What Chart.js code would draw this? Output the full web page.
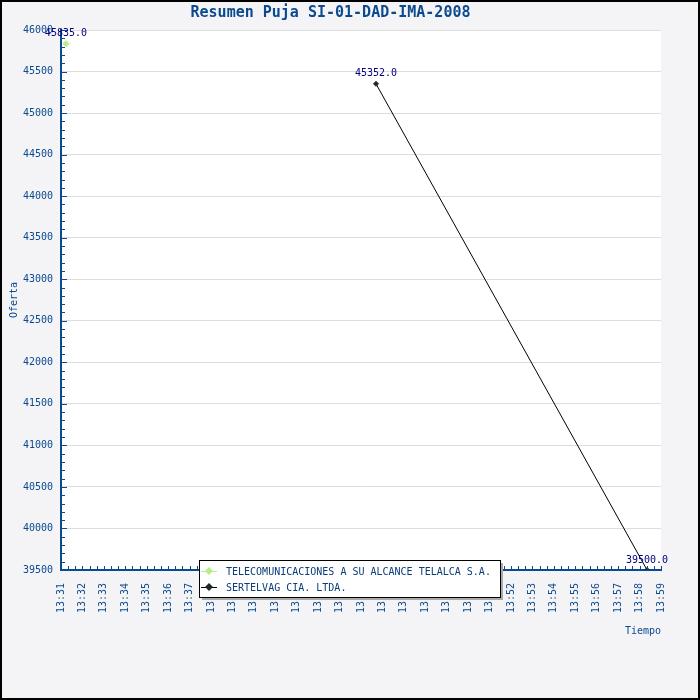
<!DOCTYPE html>
<html>
<head>
<meta charset="utf-8">
<script src="https://cdn.jsdelivr.net/npm/chart.js@4/dist/chart.umd.min.js"></script>
<style>
  body { margin: 0; background: #f4f4f6; }
  canvas { display: block; }
</style>
</head>
<body>
<canvas id="ChartPuja" width="700" height="700"></canvas>
<script>
// datos de la puja (minutos despues de las 13:00)
const seriesNames = ["TELECOMUNICACIONES A SU ALCANCE TELALCA S.A.", "SERTELVAG CIA. LTDA."];
const telalcaTimes = [31.23];
const telalcaOffers = [45835];
const sertelvagTimes = [45.7, 58.35];
const sertelvagOffers = [45352, 39500];
const xMinMinute = 31;
const xMaxMinute = 59;
const yMin = 39500;
const yMax = 46000;

const blue = "#0b4a8f";
const mono = "'DejaVu Sans Mono', monospace";

function toPoints(xs, ys) {
  return xs.map((x, i) => ({ x: x, y: ys[i] }));
}

// fondo, borde y area blanca
const backgroundPlugin = {
  id: "background",
  beforeDraw(chart) {
    const { ctx, chartArea } = chart;
    ctx.save();
    ctx.fillStyle = "#f4f4f6";
    ctx.fillRect(0, 0, chart.width, chart.height);
    ctx.fillStyle = "#ffffff";
    ctx.fillRect(chartArea.left, chartArea.top, chartArea.right - chartArea.left, chartArea.bottom - chartArea.top);
    ctx.restore();
  },
  afterDraw(chart) {
    const ctx = chart.ctx;
    ctx.save();
    ctx.strokeStyle = "#000";
    ctx.lineWidth = 2;
    ctx.strokeRect(1, 1, chart.width - 2, chart.height - 2);
    ctx.restore();
  }
};

// marcas de los ejes hacia adentro
const innerTicksPlugin = {
  id: "innerTicks",
  afterDatasetsDraw(chart) {
    const { ctx, scales } = chart;
    const x = scales.x, y = scales.y;
    ctx.save();
    ctx.strokeStyle = blue;
    ctx.lineWidth = 1;
    ctx.beginPath();
    for (let s = xMinMinute * 3; s <= xMaxMinute * 3; s++) {
      const px = Math.round(x.getPixelForValue(s / 3)) + 0.5;
      ctx.moveTo(px, y.bottom);
      ctx.lineTo(px, y.bottom - 4);
    }
    for (let v = yMin; v <= yMax; v += 100) {
      const py = Math.round(y.getPixelForValue(v)) + 0.5;
      const len = v % 500 === 0 ? 6 : 4;
      ctx.moveTo(x.left, py);
      ctx.lineTo(x.left + len, py);
    }
    ctx.stroke();
    ctx.restore();
  }
};

// etiquetas de valor sobre cada punto
const valueLabelsPlugin = {
  id: "valueLabels",
  afterDatasetsDraw(chart) {
    const ctx = chart.ctx;
    ctx.save();
    ctx.font = "10px " + mono;
    ctx.fillStyle = "#000080";
    ctx.textAlign = "center";
    ctx.textBaseline = "middle";
    chart.data.datasets.forEach((ds, i) => {
      chart.getDatasetMeta(i).data.forEach((el, j) => {
        ctx.fillText(ds.data[j].y.toFixed(1), el.x, el.y - 10);
      });
    });
    ctx.restore();
  }
};

// leyenda con sombra
const boxLegendPlugin = {
  id: "boxLegend",
  afterDraw(chart) {
    const ctx = chart.ctx;
    const bx = 199, by = 560, bw = 301, bh = 37;
    ctx.save();
    ctx.fillStyle = "#aaaaaa";
    ctx.fillRect(bx + 3, by + 3, bw, bh);
    ctx.fillStyle = "#ffffff";
    ctx.fillRect(bx, by, bw, bh);
    ctx.strokeStyle = "#000";
    ctx.lineWidth = 1;
    ctx.strokeRect(bx + 0.5, by + 0.5, bw, bh);
    ctx.font = "10px " + mono;
    ctx.textBaseline = "middle";
    chart.data.datasets.forEach((ds, i) => {
      const ry = by + 11 + i * 16;
      ctx.strokeStyle = ds.borderColor;
      ctx.beginPath();
      ctx.moveTo(bx + 2, ry + 0.5);
      ctx.lineTo(bx + 18, ry + 0.5);
      ctx.stroke();
      ctx.fillStyle = ds.pointBackgroundColor;
      ctx.beginPath();
      ctx.moveTo(bx + 10, ry - 4);
      ctx.lineTo(bx + 14, ry);
      ctx.lineTo(bx + 10, ry + 4);
      ctx.lineTo(bx + 6, ry);
      ctx.closePath();
      ctx.fill();
      ctx.fillStyle = "#0a3d7a";
      ctx.fillText(ds.label, bx + 27, ry + 1);
    });
    ctx.restore();
  }
};

const ctx = document.getElementById("ChartPuja").getContext("2d");
const myChart = new Chart(ctx, {
  type: "line",
  data: {
    datasets: [
      {
        label: seriesNames[0],
        data: toPoints(telalcaTimes, telalcaOffers),
        borderColor: "#b8ee88",
        backgroundColor: "#b8ee88",
        pointBackgroundColor: "#b8ee88",
        pointBorderColor: "#b8ee88",
        pointStyle: "rectRot",
        pointRadius: 3,
        borderWidth: 1,
      },
      {
        label: seriesNames[1],
        data: toPoints(sertelvagTimes, sertelvagOffers),
        borderColor: "#000000",
        backgroundColor: "#1c2a2a",
        pointBackgroundColor: "#1c2a2a",
        pointBorderColor: "#1c2a2a",
        pointStyle: "rectRot",
        pointRadius: 2.5,
        borderWidth: 1,
      },
    ],
  },
  options: {
    responsive: false,
    animation: false,
    devicePixelRatio: 1,
    layout: { padding: { top: 0, left: 0, right: 39, bottom: 0 } },
    plugins: {
      legend: { display: false },
      tooltip: { enabled: false },
      title: {
        display: true,
        text: "Resumen Puja SI-01-DAD-IMA-2008",
        color: blue,
        font: { family: mono, size: 15, weight: "bold", lineHeight: 1.2 },
        padding: { top: 4, bottom: 8 },
      },
    },
    scales: {
      x: {
        type: "linear",
        min: xMinMinute,
        max: xMaxMinute,
        afterFit(scale) { scale.height = 130; },
        grid: { display: false },
        border: { color: blue, width: 2 },
        ticks: {
          stepSize: 1,
          autoSkip: false,
          minRotation: 90,
          maxRotation: 90,
          padding: 5,
          color: blue,
          font: { family: mono, size: 10 },
          callback: (v) => "13:" + v,
        },
        title: {
          display: true,
          text: "Tiempo",
          align: "end",
          color: blue,
          font: { family: mono, size: 10 },
          padding: { top: 0, bottom: 63 },
        },
      },
      y: {
        min: yMin,
        max: yMax,
        afterFit(scale) { scale.width = 61; },
        grid: { color: "#dddddd", drawTicks: false },
        border: { color: blue, width: 2 },
        ticks: {
          stepSize: 500,
          padding: 8,
          color: blue,
          font: { family: mono, size: 10 },
          callback: (v) => String(v),
        },
        title: {
          display: true,
          text: "Oferta",
          color: blue,
          font: { family: mono, size: 10 },
          padding: { top: 8, bottom: 0 },
        },
      },
    },
  },
  plugins: [backgroundPlugin, innerTicksPlugin, valueLabelsPlugin, boxLegendPlugin],
});
</script>
</body>
</html>
